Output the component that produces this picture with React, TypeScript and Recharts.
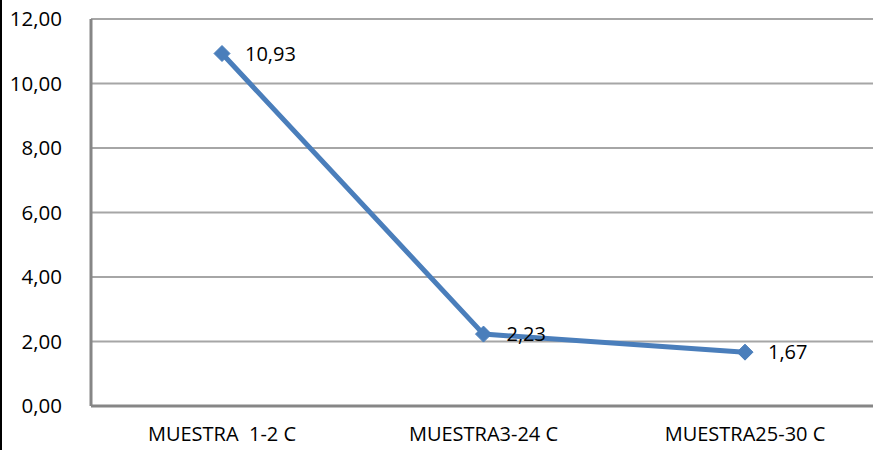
import React from "react";
import { LineChart, Line, XAxis, YAxis, CartesianGrid, LabelList } from "recharts";

const categories = ["MUESTRA\u00A0 1-2 C", "MUESTRA3-24 C", "MUESTRA25-30 C"];
const values = [10.93, 2.23, 1.67];
const yTicks = [0, 2, 4, 6, 8, 10, 12];

const data = categories.map((name, i) => ({ name, value: values[i] }));

const fmt = (v: number) => v.toFixed(2).replace(".", ",");

const FONT = "'Open Sans', 'Liberation Sans', sans-serif";
const BLUE = "#4A7EBB";

const Diamond = (props: any) => {
  const { cx, cy } = props;
  if (cx == null || cy == null) return null;
  const r = 8;
  return (
    <path
      d={`M${cx},${cy - r} L${cx + r},${cy} L${cx},${cy + r} L${cx - r},${cy} Z`}
      fill={BLUE}
      stroke={BLUE}
      strokeWidth={1}
    />
  );
};

const ValueLabel = (props: any) => {
  const { x, y, value } = props;
  return (
    <text x={x + 23} y={y} dy={7} fontSize={20} fontFamily={FONT} fill="#000">
      {fmt(value)}
    </text>
  );
};

export default function App() {
  return (
    <div
      style={{
        position: "absolute",
        left: 0,
        top: 0,
        width: 873,
        height: 450,
        overflow: "hidden",
        background: "#fff",
      }}
    >
      <div style={{ position: "absolute", left: 0, top: 0, width: 2, height: 450, background: "#000" }} />
      <LineChart
        width={880}
        height={450}
        data={data}
        margin={{ top: 19, right: 4, left: 0, bottom: 0 }}
      >
        <CartesianGrid vertical={false} stroke="#A6A6A6" strokeWidth={2} />
        <XAxis
          dataKey="name"
          height={44}
          padding={{ left: 131, right: 131 }}
          tickLine={false}
          axisLine={{ stroke: "#868686", strokeWidth: 3 }}
          tick={{ fontSize: 20, fontFamily: FONT, fill: "#000" }}
          tickMargin={15}
          interval={0}
        />
        <YAxis
          width={91}
          domain={[0, 12]}
          ticks={yTicks}
          tickFormatter={fmt}
          tickLine={false}
          axisLine={{ stroke: "#868686", strokeWidth: 3 }}
          tick={{ fontSize: 20.5, fontFamily: FONT, fill: "#000" }}
          tickMargin={23}
        />
        <Line
          type="linear"
          dataKey="value"
          stroke={BLUE}
          strokeWidth={5}
          dot={<Diamond />}
          activeDot={false}
          isAnimationActive={false}
        >
          <LabelList dataKey="value" content={<ValueLabel />} />
        </Line>
      </LineChart>
    </div>
  );
}
